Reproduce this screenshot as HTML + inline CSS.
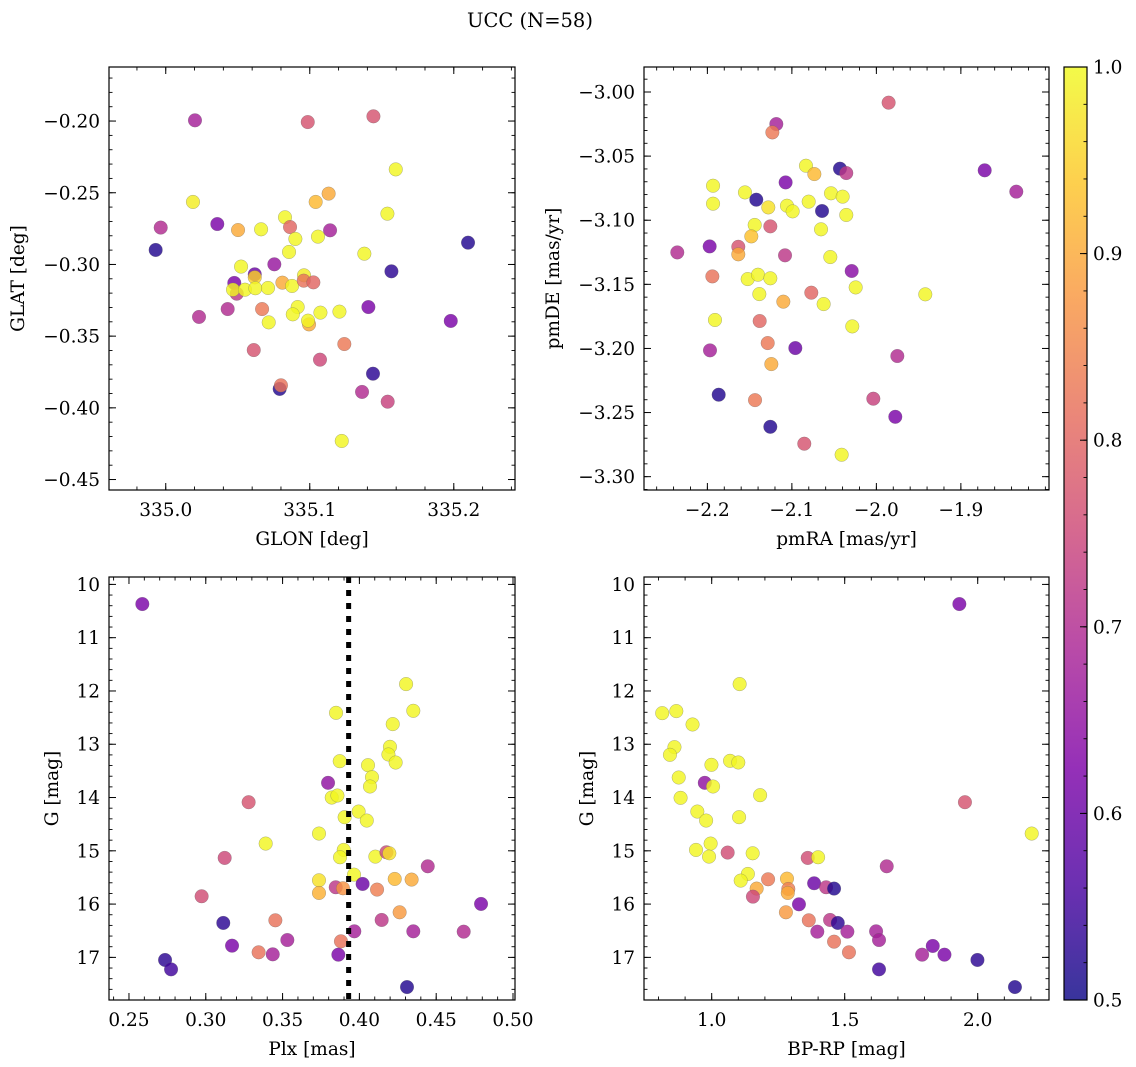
<!DOCTYPE html>
<html><head><meta charset="utf-8"><style>
html,body{margin:0;padding:0;background:#fff;}
svg{display:block;font-family:"DejaVu Serif","Liberation Serif",serif;}
</style></head><body>
<svg id="fig" width="1136" height="1067" viewBox="0 0 1136 1067" xmlns="http://www.w3.org/2000/svg">
<text x="530" y="27" font-size="19.5" text-anchor="middle">UCC (N=58)</text>
</svg>
<script>
// ---- Panel 1: GLON / GLAT ----
const p1X=[335.0203,335.0986,335.1442,335.1597,335.0189,335.1131,335.1041,335.1539,334.9965,335.0358,335.0502,335.0662,335.0828,335.0863,335.1141,335.0900,335.1057,334.9930,335.2099,335.0856,335.1379,335.1567,335.0754,335.0523,335.0618,335.0618,335.0476,335.0493,335.0467,335.0550,335.0622,335.0710,335.0810,335.0877,335.0960,335.0958,335.1025,335.0430,335.0231,335.0669,335.0916,335.0882,335.1074,335.1206,335.0715,335.0995,335.0988,335.1407,335.1979,335.0611,335.1240,335.1071,335.1439,335.0791,335.0800,335.1363,335.1541,335.1222];
const p1Y=[-0.1995,-0.2007,-0.1967,-0.2337,-0.2564,-0.2506,-0.2564,-0.2646,-0.2743,-0.2718,-0.2760,-0.2755,-0.2671,-0.2739,-0.2762,-0.2822,-0.2806,-0.2899,-0.2848,-0.2913,-0.2925,-0.3048,-0.2999,-0.3015,-0.3069,-0.3090,-0.3129,-0.3204,-0.3176,-0.3176,-0.3166,-0.3164,-0.3127,-0.3150,-0.3076,-0.3113,-0.3125,-0.3311,-0.3366,-0.3311,-0.3297,-0.3348,-0.3336,-0.3329,-0.3404,-0.3418,-0.3392,-0.3297,-0.3394,-0.3597,-0.3555,-0.3664,-0.3762,-0.3868,-0.3843,-0.3889,-0.3957,-0.4231];
const p1P=[0.68,0.77,0.77,0.995,0.985,0.9,0.92,0.995,0.7,0.62,0.9,0.995,0.995,0.8,0.68,0.995,0.995,0.52,0.52,0.995,0.995,0.53,0.66,0.995,0.6,0.95,0.62,0.72,0.995,0.995,0.995,0.995,0.9,0.995,0.985,0.82,0.8,0.7,0.7,0.83,0.995,0.995,0.995,0.995,0.995,0.9,0.995,0.62,0.62,0.77,0.83,0.75,0.53,0.52,0.82,0.7,0.74,0.995];
const p1XTicks=[335.0,335.1,335.2];
const p1XTickLabels=["335.0","335.1","335.2"];
const p1YTicks=[-0.20,-0.25,-0.30,-0.35,-0.40,-0.45];
const p1YTickLabels=["\u22120.20","\u22120.25","\u22120.30","\u22120.35","\u22120.40","\u22120.45"];
// ---- Panel 2: pmRA / pmDE ----
const p2X=[-1.9855,-2.1184,-2.1231,-2.0833,-2.0734,-2.0431,-2.0356,-1.8718,-1.8344,-2.1074,-2.1933,-2.1933,-2.1555,-2.1421,-2.1279,-2.1058,-2.0991,-2.0801,-2.0537,-2.0399,-2.0643,-2.0356,-2.1440,-2.1255,-2.1480,-2.0655,-2.2356,-2.1973,-2.1634,-2.1634,-2.1081,-2.0545,-2.0292,-2.1941,-2.1523,-2.1401,-2.1255,-2.1385,-2.0770,-2.1101,-2.0624,-2.0245,-1.9421,-2.1910,-2.1381,-2.0285,-2.1286,-2.0959,-2.1969,-2.1243,-1.9752,-2.1866,-2.1436,-2.0036,-1.9776,-2.1255,-2.0853,-2.0411];
const p2Y=[-3.0083,-3.0250,-3.0315,-3.0575,-3.0640,-3.0598,-3.0632,-3.0611,-3.0777,-3.0705,-3.0731,-3.0871,-3.0783,-3.0840,-3.0900,-3.0887,-3.0931,-3.0855,-3.0790,-3.0816,-3.0928,-3.0959,-3.1037,-3.1048,-3.1126,-3.1071,-3.1251,-3.1204,-3.1207,-3.1266,-3.1274,-3.1287,-3.1396,-3.1438,-3.1459,-3.1425,-3.1453,-3.1576,-3.1565,-3.1635,-3.1654,-3.1524,-3.1578,-3.1778,-3.1786,-3.1828,-3.1958,-3.1997,-3.2015,-3.2122,-3.2059,-3.2361,-3.2403,-3.2392,-3.2533,-3.2611,-3.2743,-3.2829];
const p2P=[0.77,0.68,0.83,0.995,0.92,0.52,0.72,0.62,0.68,0.62,0.995,0.995,0.995,0.52,0.97,0.995,0.995,0.995,0.995,0.995,0.52,0.995,0.995,0.77,0.93,0.995,0.7,0.62,0.77,0.9,0.72,0.995,0.64,0.82,0.995,0.995,0.995,0.995,0.8,0.9,0.995,0.995,0.995,0.995,0.8,0.995,0.83,0.6,0.68,0.9,0.7,0.52,0.83,0.74,0.62,0.52,0.77,0.995];
const p2XTicks=[-2.2,-2.1,-2.0,-1.9];
const p2XTickLabels=["\u22122.2","\u22122.1","\u22122.0","\u22121.9"];
const p2YTicks=[-3.00,-3.05,-3.10,-3.15,-3.20,-3.25,-3.30];
const p2YTickLabels=["\u22123.00","\u22123.05","\u22123.10","\u22123.15","\u22123.20","\u22123.25","\u22123.30"];
// ---- Panel 3: Plx / G ----
const p3X=[0.2587,0.4304,0.4351,0.3848,0.4217,0.4199,0.4189,0.4236,0.3872,0.4056,0.4082,0.4069,0.3796,0.3279,0.3820,0.3857,0.3995,0.3904,0.4048,0.3737,0.3390,0.3123,0.3898,0.3874,0.4104,0.4176,0.4195,0.4445,0.3965,0.3737,0.3737,0.3846,0.3893,0.4021,0.4115,0.4230,0.4340,0.2973,0.4792,0.4262,0.3114,0.3453,0.4145,0.3967,0.4351,0.4679,0.3531,0.3880,0.3171,0.3344,0.3436,0.3863,0.2735,0.2774,0.4310];
const p3Y=[10.368,11.871,12.372,12.410,12.622,13.048,13.192,13.343,13.318,13.393,13.618,13.793,13.724,14.088,14.000,13.962,14.263,14.369,14.432,14.676,14.864,15.133,14.983,15.121,15.109,15.027,15.046,15.290,15.447,15.553,15.791,15.684,15.703,15.622,15.728,15.528,15.540,15.853,15.997,16.154,16.354,16.304,16.298,16.511,16.511,16.517,16.674,16.699,16.780,16.905,16.943,16.949,17.049,17.225,17.557];
const p3P=[0.62,0.995,0.995,0.995,0.995,0.995,0.995,0.995,0.995,0.995,0.995,0.995,0.65,0.77,0.995,0.995,0.995,0.995,0.995,0.995,0.995,0.75,0.995,0.995,0.995,0.75,0.97,0.7,0.995,0.97,0.91,0.72,0.87,0.6,0.84,0.92,0.9,0.76,0.62,0.88,0.53,0.82,0.72,0.68,0.68,0.7,0.68,0.82,0.62,0.82,0.68,0.62,0.53,0.55,0.52];
const p3Median=[0.393];
const p3XTicks=[0.25,0.30,0.35,0.40,0.45,0.50];
const p3XTickLabels=["0.25","0.30","0.35","0.40","0.45","0.50"];
const gTicks=[10,11,12,13,14,15,16,17];
const gTickLabels=["10","11","12","13","14","15","16","17"];
// ---- Panel 4: BP-RP / G ----
const p4X=[1.931,1.105,0.814,0.867,0.928,0.860,0.843,0.999,1.069,1.100,0.876,0.974,1.005,0.883,1.182,0.946,0.979,1.103,1.952,2.203,0.941,0.996,0.990,1.060,1.154,1.361,1.400,1.658,1.136,1.109,1.212,1.283,1.288,1.286,1.169,1.155,1.385,1.430,1.460,1.328,1.279,1.365,1.445,1.474,1.397,1.510,1.618,1.629,1.460,1.516,1.831,1.791,1.875,1.999,1.629,2.140];
const p4Y=[10.368,11.871,12.416,12.378,12.629,13.054,13.198,13.386,13.311,13.342,13.624,13.724,13.793,14.006,13.956,14.263,14.432,14.369,14.088,14.676,14.983,14.864,15.109,15.033,15.046,15.133,15.121,15.290,15.434,15.559,15.534,15.522,15.716,15.791,15.709,15.860,15.609,15.684,15.709,16.004,16.154,16.304,16.298,16.354,16.517,16.517,16.511,16.674,16.705,16.905,16.786,16.949,16.949,17.049,17.225,17.557];
const p4P=[0.62,0.995,0.995,0.995,0.995,0.995,0.995,0.995,0.995,0.995,0.995,0.65,0.995,0.995,0.995,0.995,0.995,0.995,0.77,0.995,0.995,0.995,0.995,0.76,0.995,0.76,0.995,0.7,0.995,0.995,0.83,0.92,0.84,0.9,0.9,0.75,0.6,0.72,0.52,0.62,0.88,0.82,0.72,0.53,0.68,0.68,0.68,0.68,0.82,0.82,0.62,0.68,0.62,0.53,0.55,0.52];
const p4XTicks=[1.0,1.5,2.0];
const p4XTickLabels=["1.0","1.5","2.0"];
// ---- Colorbar ----
const cbTicks=[0.5,0.6,0.7,0.8,0.9,1.0];
const cbTickLabels=["0.5","0.6","0.7","0.8","0.9","1.0"];

const NS="http://www.w3.org/2000/svg";
const svg=document.getElementById('fig');
const FS=18.5;
function mk(tag,attrs,parent){const e=document.createElementNS(NS,tag);for(const k in attrs)e.setAttribute(k,attrs[k]);(parent||svg).appendChild(e);return e;}
const stops=[[13,8,135],[76,2,161],[126,3,168],[169,35,149],[204,71,120],[230,108,92],[248,149,64],[253,197,39],[240,249,33]];
function plasma(t){t=Math.max(0,Math.min(1,t));const f=t*8,i=Math.min(7,Math.floor(f)),r=f-i;const a=stops[i],b=stops[i+1];
return 'rgb('+[0,1,2].map(k=>Math.round(a[k]+(b[k]-a[k])*r)).join(',')+')';}
function pcol(p){return plasma((p-0.5)/0.5);}

function panel(o){
  const g=mk('g',{});
  
  
  const sx=v=>o.x0+(v-o.xmin)/(o.xmax-o.xmin)*(o.x1-o.x0);
  const sy=v=>o.y0+(o.ymax-v)/(o.ymax-o.ymin)*(o.y1-o.y0);
  for(let i=0;i<o.X.length;i++){
    const c=mk('circle',{cx:sx(o.X[i]),cy:sy(o.Y[i]),r:6.8,fill:pcol(o.P[i]),'fill-opacity':0.82,stroke:'#606060','stroke-opacity':0.5,'stroke-width':0.5},g);
    
    
  }
  if(o.vline){for(const v of o.vline){const l=mk('line',{x1:sx(v),x2:sx(v),y1:o.y0,y2:o.y1,stroke:'#000','stroke-width':5,'stroke-dasharray':'6,7'},g);
    
    }}
  const fr=mk('rect',{x:o.x0,y:o.y0,width:o.x1-o.x0,height:o.y1-o.y0,fill:'none',stroke:'#000','stroke-width':1.2},g);
  
  
  const e=1e-9;
  for(let v=Math.ceil(o.xmin/o.xminor-e)*o.xminor;v<=o.xmax+e;v+=o.xminor){const x=sx(v);
    mk('line',{x1:x,x2:x,y1:o.y1,y2:o.y1-3.5,stroke:'#000','stroke-width':0.9},g);mk('line',{x1:x,x2:x,y1:o.y0,y2:o.y0+3.5,stroke:'#000','stroke-width':0.9},g);}
  for(let v=Math.ceil(o.ymin/o.yminor-e)*o.yminor;v<=o.ymax+e;v+=o.yminor){const y=sy(v);
    mk('line',{x1:o.x0,x2:o.x0+3.5,y1:y,y2:y,stroke:'#000','stroke-width':0.9},g);mk('line',{x1:o.x1,x2:o.x1-3.5,y1:y,y2:y,stroke:'#000','stroke-width':0.9},g);}
  o.xt.forEach((v,i)=>{const x=sx(v);
    mk('line',{x1:x,x2:x,y1:o.y1,y2:o.y1-7,stroke:'#000','stroke-width':1},g);mk('line',{x1:x,x2:x,y1:o.y0,y2:o.y0+7,stroke:'#000','stroke-width':1},g);
    const t=mk('text',{x:x,y:o.y1+26,'font-size':FS,'text-anchor':'middle'},g);t.textContent=o.xtl[i];
    
    });
  o.yt.forEach((v,i)=>{const y=sy(v);
    mk('line',{x1:o.x0,x2:o.x0+7,y1:y,y2:y,stroke:'#000','stroke-width':1},g);mk('line',{x1:o.x1,x2:o.x1-7,y1:y,y2:y,stroke:'#000','stroke-width':1},g);
    const t=mk('text',{x:o.x0-9,y:y+6.5,'font-size':FS,'text-anchor':'end'},g);t.textContent=o.ytl[i];
    
    });
  const xl=mk('text',{x:(o.x0+o.x1)/2,y:o.y1+55,'font-size':FS,'text-anchor':'middle'},g);xl.textContent=o.xlabel;
  
  
  const yx=o.ylx,yy=(o.y0+o.y1)/2;
  const yl=mk('text',{x:yx,y:yy,'font-size':FS,'text-anchor':'middle',transform:'rotate(-90 '+yx+' '+yy+')'},g);yl.textContent=o.ylabel;
  
  
}

panel({name:'panel-glon-glat',x0:109,x1:515,y0:67,y1:490,xmin:334.9606,xmax:335.2425,ymin:-0.4573,ymax:-0.1623,X:p1X,Y:p1Y,P:p1P,xt:p1XTicks,xtl:p1XTickLabels,yt:p1YTicks,ytl:p1YTickLabels,xminor:0.02,yminor:0.01,xlabel:'GLON [deg]',ylabel:'GLAT [deg]',ylx:24});
panel({name:'panel-pmra-pmde',x0:644,x1:1049,y0:67,y1:490,xmin:-2.275,xmax:-1.7957,ymin:-3.3104,ymax:-2.9805,X:p2X,Y:p2Y,P:p2P,xt:p2XTicks,xtl:p2XTickLabels,yt:p2YTicks,ytl:p2YTickLabels,xminor:0.02,yminor:0.01,xlabel:'pmRA [mas/yr]',ylabel:'pmDE [mas/yr]',ylx:559});
panel({name:'panel-plx-g',x0:109,x1:515,y0:577,y1:1000,xmin:0.237,xmax:0.5013,ymin:-17.80,ymax:-9.861,X:p3X,Y:p3Y.map(v=>-v),P:p3P,vline:p3Median,xt:p3XTicks,xtl:p3XTickLabels,yt:gTicks.map(v=>-v),ytl:gTickLabels,xminor:0.01,yminor:0.2,xlabel:'Plx [mas]',ylabel:'G [mag]',ylx:58});
panel({name:'panel-bprp-g',x0:644,x1:1049,y0:577,y1:1000,xmin:0.7455,xmax:2.268,ymin:-17.80,ymax:-9.861,X:p4X,Y:p4Y.map(v=>-v),P:p4P,xt:p4XTicks,xtl:p4XTickLabels,yt:gTicks.map(v=>-v),ytl:gTickLabels,xminor:0.1,yminor:0.2,xlabel:'BP-RP [mag]',ylabel:'G [mag]',ylx:593});

(function(){
  const x0=1064,x1=1087,y0=67,y1=1000;
  const g=mk('g',{});
  
  
  const defs=mk('defs',{},g);
  const lg=mk('linearGradient',{id:'cbg',x1:0,y1:1,x2:0,y2:0},defs);
  for(let i=0;i<=16;i++){mk('stop',{offset:i/16,'stop-color':plasma(i/16)},lg);}
  mk('rect',{x:x0,y:y0,width:x1-x0,height:y1-y0,fill:'url(#cbg)','fill-opacity':0.82},g);
  mk('rect',{x:x0,y:y0,width:x1-x0,height:y1-y0,fill:'none',stroke:'#000','stroke-width':1.2},g);
  const sy=v=>y1-(v-0.5)/0.5*(y1-y0);
  for(let v=0.5;v<=1.0001;v+=0.02){const y=sy(v);mk('line',{x1:x1,x2:x1-3.5,y1:y,y2:y,stroke:'#000','stroke-width':0.9},g);}
  cbTicks.forEach((v,i)=>{const y=sy(v);mk('line',{x1:x1,x2:x1-7,y1:y,y2:y,stroke:'#000','stroke-width':1},g);
    const t=mk('text',{x:x1+6,y:y+6.5,'font-size':FS},g);t.textContent=cbTickLabels[i];
    
    });
})();
</script>
</body></html>
